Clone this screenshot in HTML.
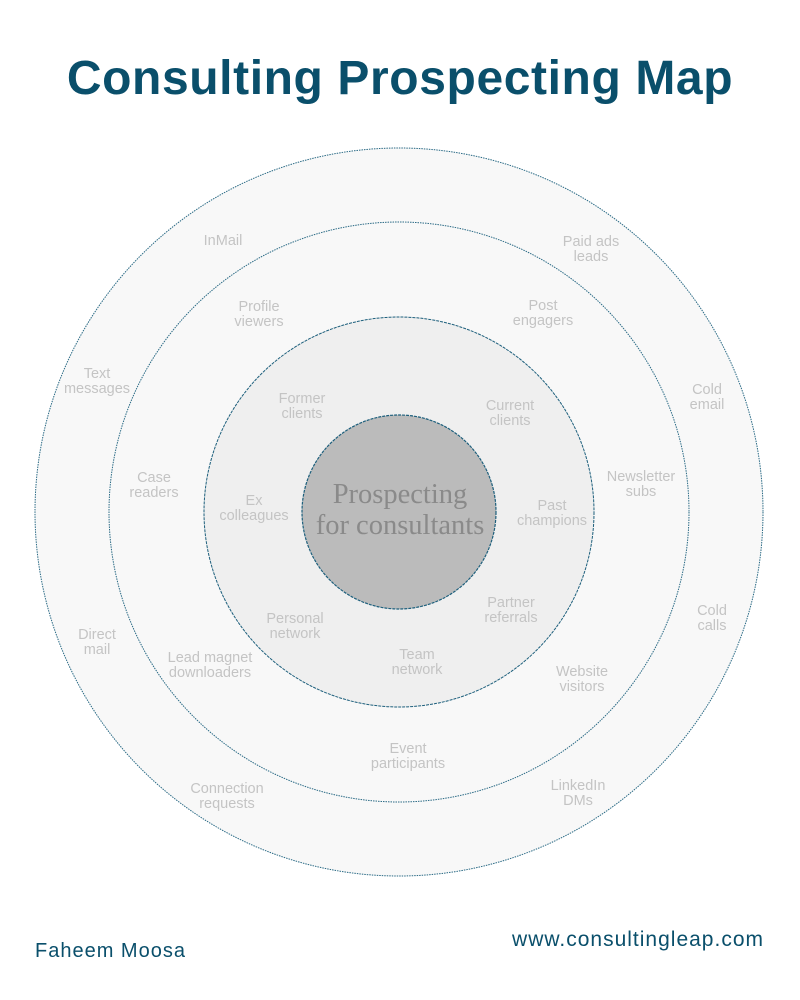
<!DOCTYPE html>
<html><head><meta charset="utf-8"><style>
html,body{margin:0;padding:0;background:#fff;}
body{width:800px;height:1000px;position:relative;overflow:hidden;font-family:"Liberation Sans",sans-serif;}
.t{position:absolute;left:0;width:800px;top:51px;text-align:center;font-weight:bold;font-size:48px;color:#0a4f6b;letter-spacing:0.6px;}
.f{position:absolute;color:#0a4f6b;}
</style></head><body>
<div class="t">Consulting Prospecting Map</div>
<svg width="800" height="1000" style="position:absolute;left:0;top:0" font-family="Liberation Sans, sans-serif">
<circle cx="399" cy="512" r="364" fill="#f8f8f8" stroke="#2a6a85" stroke-width="1" stroke-dasharray="1.5 1"/>
<circle cx="399" cy="512" r="290" fill="#f8f8f8" stroke="#2a6a85" stroke-width="1" stroke-dasharray="1.5 1"/>
<circle cx="399" cy="512" r="195" fill="#efefef" stroke="#1d5f7c" stroke-width="1" stroke-dasharray="3 1"/>
<circle cx="399" cy="512" r="97" fill="#bbbbbb" stroke="#1d5f7c" stroke-width="1.2" stroke-dasharray="3 1"/>
<g font-family="Liberation Serif, serif" font-size="28.5" fill="#8a8a8a" text-anchor="middle">
<text x="400" y="503">Prospecting</text><text x="400" y="534">for consultants</text></g>
<g font-size="14.5" fill="#c4c4c4" text-anchor="middle">
<text x="223" y="245">InMail</text>
<text x="591" y="246">Paid ads</text><text x="591" y="261">leads</text>
<text x="97" y="378">Text</text><text x="97" y="393">messages</text>
<text x="707" y="394">Cold</text><text x="707" y="409">email</text>
<text x="97" y="639">Direct</text><text x="97" y="654">mail</text>
<text x="712" y="615">Cold</text><text x="712" y="630">calls</text>
<text x="227" y="793">Connection</text><text x="227" y="808">requests</text>
<text x="578" y="790">LinkedIn</text><text x="578" y="805">DMs</text>
<text x="259" y="311">Profile</text><text x="259" y="326">viewers</text>
<text x="543" y="310">Post</text><text x="543" y="325">engagers</text>
<text x="154" y="482">Case</text><text x="154" y="497">readers</text>
<text x="641" y="481">Newsletter</text><text x="641" y="496">subs</text>
<text x="210" y="662">Lead magnet</text><text x="210" y="677">downloaders</text>
<text x="582" y="676">Website</text><text x="582" y="691">visitors</text>
<text x="408" y="753">Event</text><text x="408" y="768">participants</text>
<text x="302" y="403">Former</text><text x="302" y="418">clients</text>
<text x="510" y="410">Current</text><text x="510" y="425">clients</text>
<text x="254" y="505">Ex</text><text x="254" y="520">colleagues</text>
<text x="552" y="510">Past</text><text x="552" y="525">champions</text>
<text x="295" y="623">Personal</text><text x="295" y="638">network</text>
<text x="511" y="607">Partner</text><text x="511" y="622">referrals</text>
<text x="417" y="659">Team</text><text x="417" y="674">network</text>
</g></svg>
<div class="f" style="left:35px;top:940px;font-size:20px;letter-spacing:1px;">Faheem Moosa</div>
<div class="f" style="right:36px;top:928px;font-size:21px;letter-spacing:1px;">www.consultingleap.com</div>
</body></html>
